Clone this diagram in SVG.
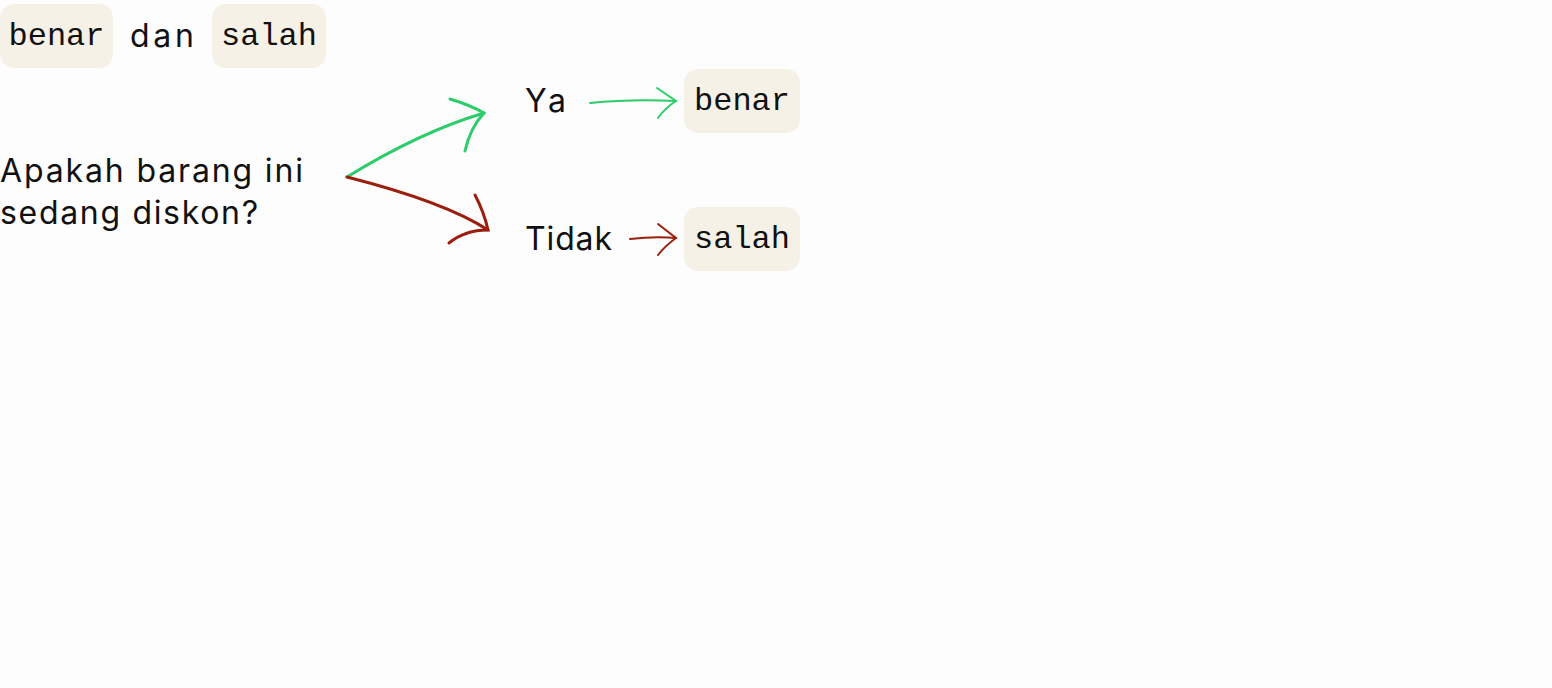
<svg xmlns="http://www.w3.org/2000/svg" width="1552" height="688" viewBox="0 0 1552 688">
<style>
.box{fill:#f5f1e7}
.mono{font-family:"Liberation Mono","Courier New",monospace;font-size:32px;fill:#111}
.sans{font-family:Inter,"Noto Sans",sans-serif;font-size:32px;fill:#111}
.g{stroke:#2ecc6a;fill:none;stroke-linecap:round}
.r{stroke:#9a1f0f;fill:none;stroke-linecap:round}
</style>
<rect width="1552" height="688" fill="#fdfdfd"/>
<g id="top-benar"><rect class="box" x="0" y="4" width="113" height="64" rx="14"/><text class="mono" x="56.5" y="45" text-anchor="middle">benar</text></g>
<g id="top-dan"><text class="sans" x="130" y="47" textLength="64">dan</text></g>
<g id="top-salah"><rect class="box" x="212" y="4" width="114" height="64" rx="14"/><text class="mono" x="269" y="45" text-anchor="middle">salah</text></g>
<g id="question"><text class="sans" x="0" y="182" textLength="303">Apakah barang ini</text><text class="sans" x="0" y="224" textLength="258">sedang diskon?</text></g>
<g id="ya"><text class="sans" x="525" y="112" textLength="41">Ya</text></g>
<g id="tidak"><text class="sans" x="525" y="250" textLength="87">Tidak</text></g>
<g id="res-benar"><rect class="box" x="684" y="69" width="116" height="64" rx="14"/><text class="mono" x="742" y="110" text-anchor="middle">benar</text></g>
<g id="res-salah"><rect class="box" x="684" y="207" width="116" height="64" rx="14"/><text class="mono" x="742" y="248" text-anchor="middle">salah</text></g>
<g id="connectors">
<path class="g" stroke-width="3" d="M347 177 Q420 132 484 113"/>
<path class="g" stroke-width="3" d="M450 99 Q470 105 484 113 Q470 128 465 151"/>
<path class="r" stroke-width="3" d="M347 177 Q445 202 488 230"/>
<path class="r" stroke-width="3" d="M475 195 Q484 212 488 230 Q465 230 449 243"/>
<path class="g" stroke-width="2" d="M590 103 Q630 99 676 101"/>
<path class="g" stroke-width="2" d="M657 88 L676 101 Q665 108 658 118"/>
<path class="r" stroke-width="2" d="M630 239 Q655 236 676 238"/>
<path class="r" stroke-width="2" d="M658 224 L676 238 Q665 246 658 255"/>
</g>
</svg>
